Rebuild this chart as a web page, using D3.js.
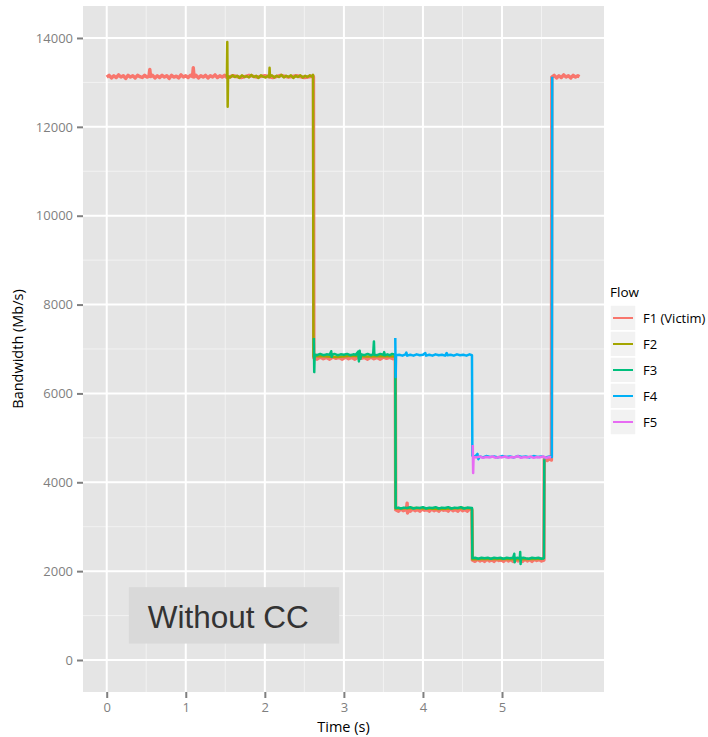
<!DOCTYPE html>
<html>
<head>
<meta charset="utf-8">
<script src="https://cdn.jsdelivr.net/npm/d3@7"></script>
<style>
  body { margin: 0; background: #fff; }
  svg text { font-family: "Open Sans", "DejaVu Sans", sans-serif; }
</style>
</head>
<body>
<div id="chart"></div>
<script>
const width = 708;
const height = 737;

// flows: names + colours (ggplot hue palette)
const flowNames = ["F1 (Victim)", "F2", "F3", "F4", "F5"];
const flowColors = ["#F8766D", "#A3A500", "#00BF7D", "#00B0F6", "#E76BF3"];

const xTicks = [0, 1, 2, 3, 4, 5];
const yTicks = [0, 2000, 4000, 6000, 8000, 10000, 12000, 14000];

// [time (s), bandwidth (Mb/s)]
const f1 = [
  [0.00,13120],[0.03,13160],[0.06,13100],[0.09,13150],[0.12,13110],[0.15,13170],[0.18,13120],[0.21,13150],
  [0.24,13090],[0.27,13160],[0.30,13120],[0.33,13150],[0.36,13100],[0.39,13160],[0.42,13130],[0.45,13110],
  [0.48,13160],[0.51,13120],[0.535,13140],[0.545,13290],[0.555,13130],[0.58,13160],[0.61,13100],[0.64,13150],
  [0.67,13110],[0.70,13160],[0.73,13120],[0.76,13150],[0.79,13090],[0.82,13160],[0.85,13120],[0.88,13140],
  [0.91,13100],[0.94,13170],[0.97,13120],[1.00,13150],[1.03,13110],[1.06,13160],[1.085,13130],[1.095,13330],
  [1.105,13120],[1.13,13160],[1.16,13100],[1.19,13150],[1.22,13120],[1.25,13160],[1.28,13100],[1.31,13150],
  [1.34,13120],[1.37,13170],[1.40,13110],[1.43,13150],[1.46,13120],[1.49,13160],[1.52,13110],
  [1.60,13150],[1.70,13110],[1.80,13160],[1.90,13120],[2.00,13150],[2.10,13110],[2.20,13160],[2.30,13120],
  [2.40,13150],[2.50,13110],[2.60,13140],[2.615,13130],
  [2.62,6800],[2.66,6770],[2.70,6820],[2.74,6780],[2.78,6810],[2.82,6770],[2.86,6820],[2.90,6790],[2.94,6810],
  [2.98,6770],[3.02,6820],[3.06,6780],[3.10,6810],[3.14,6770],[3.18,6820],[3.22,6790],[3.26,6810],[3.30,6770],
  [3.34,6820],[3.38,6780],[3.42,6810],[3.46,6770],[3.50,6820],[3.54,6790],[3.58,6810],[3.62,6780],[3.65,6800],
  [3.655,3380],[3.69,3350],[3.72,3400],[3.75,3360],[3.79,3390],[3.80,3530],[3.805,3310],[3.81,3380],[3.84,3350],
  [3.87,3400],[3.90,3360],[3.93,3390],[3.96,3350],[3.99,3400],[4.02,3370],[4.05,3390],[4.08,3350],[4.11,3400],
  [4.14,3360],[4.17,3390],[4.20,3350],[4.23,3400],[4.26,3370],[4.29,3390],[4.32,3350],[4.35,3410],[4.38,3360],
  [4.41,3390],[4.44,3350],[4.47,3400],[4.50,3360],[4.53,3390],[4.56,3350],[4.59,3400],[4.62,3370],
  [4.625,2250],[4.66,2220],[4.69,2270],[4.72,2230],[4.75,2260],[4.78,2220],[4.81,2270],[4.84,2230],[4.87,2260],
  [4.90,2220],[4.93,2270],[4.96,2240],[4.99,2260],[5.02,2220],[5.05,2270],[5.08,2230],[5.11,2260],[5.14,2220],
  [5.17,2270],[5.20,2230],[5.23,2260],[5.26,2220],[5.29,2270],[5.32,2230],[5.35,2260],[5.38,2220],[5.41,2270],
  [5.44,2240],[5.47,2260],[5.50,2230],[5.53,2250],
  [5.535,4520],[5.57,4490],[5.60,4530],[5.625,4500],
  [5.63,13120],[5.66,13160],[5.69,13100],[5.72,13150],[5.75,13110],[5.78,13170],[5.81,13120],[5.84,13150],
  [5.87,13100],[5.90,13160],[5.93,13120],[5.96,13150],[5.98,13130]
];

const f2 = [
  [1.52,13130],[1.525,13910],[1.53,12450],[1.535,13140],[1.56,13110],[1.59,13160],[1.62,13120],[1.65,13150],
  [1.68,13100],[1.71,13160],[1.74,13120],[1.77,13140],[1.80,13110],[1.83,13170],[1.86,13120],[1.89,13150],
  [1.92,13100],[1.95,13160],[1.98,13130],[2.01,13110],[2.04,13150],[2.055,13120],[2.06,13330],[2.065,13130],
  [2.09,13160],[2.12,13110],[2.15,13150],[2.18,13120],[2.21,13170],[2.24,13110],[2.27,13150],[2.30,13120],
  [2.33,13160],[2.36,13100],[2.39,13150],[2.42,13120],[2.45,13160],[2.48,13110],[2.51,13150],[2.54,13120],
  [2.57,13160],[2.60,13130],[2.61,13170],
  [2.615,6830],[2.70,6840],[2.90,6820],[3.10,6850],[3.30,6830],[3.50,6840],[3.65,6830],
  [3.655,3410],[3.90,3420],[4.20,3400],[4.50,3420],[4.62,3410],
  [4.625,2270],[4.90,2280],[5.20,2270],[5.53,2280]
];

const f3 = [
  [2.62,7250],[2.625,6480],[2.63,6880],[2.66,6860],[2.70,6890],[2.74,6860],[2.78,6880],[2.82,6870],[2.84,6950],
  [2.845,6820],[2.85,6870],[2.88,6890],[2.92,6860],[2.96,6880],[3.00,6870],[3.04,6890],[3.08,6860],[3.12,6880],
  [3.15,6870],[3.18,6940],[3.19,6720],[3.20,6960],[3.21,6780],[3.22,6880],[3.26,6860],[3.30,6890],[3.34,6860],
  [3.37,6880],[3.38,7170],[3.385,6870],[3.42,6860],[3.46,6890],[3.50,6870],[3.51,6930],[3.515,6860],[3.55,6880],
  [3.58,6860],[3.61,6890],[3.65,6870],
  [3.655,3420],[3.69,3430],[3.72,3410],[3.76,3430],[3.80,3420],[3.84,3440],[3.88,3410],[3.92,3430],[3.96,3420],
  [4.00,3440],[4.04,3410],[4.08,3430],[4.12,3420],[4.16,3440],[4.20,3410],[4.24,3430],[4.28,3420],[4.32,3440],
  [4.36,3410],[4.40,3430],[4.44,3420],[4.48,3440],[4.52,3410],[4.56,3430],[4.62,3420],
  [4.625,2290],[4.66,2300],[4.70,2280],[4.74,2300],[4.78,2290],[4.82,2300],[4.86,2280],[4.90,2300],[4.94,2290],
  [4.98,2300],[5.02,2280],[5.06,2300],[5.10,2290],[5.14,2300],[5.155,2390],[5.16,2200],[5.165,2290],[5.20,2300],
  [5.225,2280],[5.23,2430],[5.235,2160],[5.24,2290],[5.27,2300],[5.30,2290],[5.34,2280],[5.38,2300],[5.42,2290],
  [5.46,2300],[5.50,2280],[5.53,2290],
  [5.535,4520]
];

const f4 = [
  [3.65,7250],[3.655,6370],[3.66,6860],[3.70,6870],[3.74,6850],[3.78,6880],[3.79,6920],[3.80,6850],[3.84,6870],
  [3.88,6850],[3.92,6880],[3.96,6860],[4.00,6870],[4.03,6910],[4.04,6850],[4.08,6870],[4.12,6850],[4.16,6880],
  [4.20,6860],[4.24,6870],[4.28,6850],[4.30,6910],[4.31,6860],[4.35,6870],[4.39,6850],[4.43,6880],[4.47,6860],
  [4.51,6870],[4.55,6850],[4.59,6880],[4.62,6860],
  [4.625,4600],[4.66,4580],[4.69,4640],[4.70,4520],[4.72,4580],[4.76,4560],[4.80,4590],[4.85,4570],[4.90,4580],
  [4.95,4560],[5.00,4590],[5.05,4570],[5.10,4580],[5.15,4560],[5.20,4590],[5.25,4570],[5.30,4580],[5.35,4560],
  [5.40,4590],[5.45,4570],[5.50,4580],[5.55,4560],[5.60,4580],[5.63,4570],[5.635,13130]
];

const f5 = [
  [4.63,4840],[4.635,4210],[4.64,4570],[4.68,4560],[4.72,4580],[4.76,4550],[4.80,4570],[4.84,4560],[4.88,4580],
  [4.92,4550],[4.96,4570],[5.00,4560],[5.04,4580],[5.08,4550],[5.12,4570],[5.16,4560],[5.20,4590],[5.24,4550],
  [5.28,4570],[5.32,4560],[5.36,4580],[5.40,4550],[5.44,4570],[5.48,4560],[5.52,4580],[5.56,4550],[5.60,4570],
  [5.62,4560]
];

const flows = [f1, f2, f3, f4, f5];

// panel box
const panel = { left: 83, right: 604, top: 6, bottom: 692 };

const svg = d3.select("#chart")
    .append("svg")
    .attr("width", width)
    .attr("height", height);

const x = d3.scaleLinear().domain([-0.30, 6.29]).range([panel.left, panel.right]);
const y = d3.scaleLinear().domain([-720, 14720]).range([panel.bottom, panel.top]);

// panel background
svg.append("rect")
    .attr("x", panel.left).attr("y", panel.top)
    .attr("width", panel.right - panel.left)
    .attr("height", panel.bottom - panel.top)
    .attr("fill", "#E5E5E5");

// minor grid
const xMinor = xTicks.map(d => d + 0.5);
const yMinor = yTicks.map(d => d + 1000);
const grid = svg.append("g");
grid.selectAll(".xminor").data(xMinor).enter().append("line")
    .attr("x1", d => x(d)).attr("x2", d => x(d))
    .attr("y1", panel.top).attr("y2", panel.bottom)
    .attr("stroke", "#F2F2F2").attr("stroke-width", 1);
grid.selectAll(".yminor").data(yMinor).enter().append("line")
    .attr("y1", d => y(d)).attr("y2", d => y(d))
    .attr("x1", panel.left).attr("x2", panel.right)
    .attr("stroke", "#F2F2F2").attr("stroke-width", 1);

// major grid
grid.selectAll(".xmajor").data(xTicks).enter().append("line")
    .attr("x1", d => x(d)).attr("x2", d => x(d))
    .attr("y1", panel.top).attr("y2", panel.bottom)
    .attr("stroke", "#fff").attr("stroke-width", 2);
grid.selectAll(".ymajor").data(yTicks).enter().append("line")
    .attr("y1", d => y(d)).attr("y2", d => y(d))
    .attr("x1", panel.left).attr("x2", panel.right)
    .attr("stroke", "#fff").attr("stroke-width", 2);

// lines (the victim trace is noisier, so it reads thicker)
const line = d3.line().x(d => x(d[0])).y(d => y(d[1]));
svg.append("g").selectAll("path")
    .data(flows)
    .enter()
    .append("path")
    .attr("d", line)
    .attr("fill", "none")
    .attr("stroke", (d, i) => flowColors[i])
    .attr("stroke-width", (d, i) => i === 0 ? 3.4 : 2.5)
    .attr("stroke-linejoin", "round");

// axes
const xAxis = svg.append("g")
    .attr("transform", `translate(0,${panel.bottom})`)
    .call(d3.axisBottom(x).tickValues(xTicks).tickSize(6).tickPadding(5).tickFormat(d3.format("d")));
const yAxis = svg.append("g")
    .attr("transform", `translate(${panel.left},0)`)
    .call(d3.axisLeft(y).tickValues(yTicks).tickSize(6).tickPadding(4).tickFormat(d3.format("d")));

[xAxis, yAxis].forEach(ax => {
    ax.select(".domain").remove();
    ax.selectAll(".tick line").attr("stroke", "#7F7F7F").attr("stroke-width", 2);
    ax.selectAll(".tick text")
        .attr("fill", "#7F7F7F")
        .style("font-size", "13px");
});

// axis titles
svg.append("text")
    .attr("x", (panel.left + panel.right) / 2)
    .attr("y", 732)
    .attr("text-anchor", "middle")
    .style("font-size", "14.5px")
    .attr("fill", "#000")
    .text("Time (s)");

svg.append("text")
    .attr("transform", `translate(23,${(panel.top + panel.bottom) / 2}) rotate(-90)`)
    .attr("text-anchor", "middle")
    .style("font-size", "14.5px")
    .attr("fill", "#000")
    .text("Bandwidth (Mb/s)");

// annotation
svg.append("rect")
    .attr("x", x(0.28)).attr("y", y(1640))
    .attr("width", x(2.94) - x(0.28))
    .attr("height", y(370) - y(1640))
    .attr("fill", "#D9D9D9");
svg.append("text")
    .attr("x", x(0.52)).attr("y", y(730))
    .attr("fill", "#333")
    .style("font-family", "'Liberation Sans', Arial, sans-serif")
    .style("font-size", "31.5px")
    .text("Without CC");

// legend
const legend = svg.append("g").attr("transform", "translate(610,282)");
legend.append("text")
    .attr("x", 0).attr("y", 15)
    .style("font-size", "13.5px")
    .attr("fill", "#000")
    .text("Flow");

const keys = legend.selectAll(".key")
    .data(flowNames)
    .enter()
    .append("g")
    .attr("transform", (d, i) => `translate(0,${23 + i * 26})`);
keys.append("rect")
    .attr("width", 26).attr("height", 26)
    .attr("fill", "#F2F2F2")
    .attr("stroke", "#fff").attr("stroke-width", 1.5);
keys.append("line")
    .attr("x1", 3).attr("x2", 23)
    .attr("y1", 13).attr("y2", 13)
    .attr("stroke", (d, i) => flowColors[i])
    .attr("stroke-width", 2);
keys.append("text")
    .attr("x", 33).attr("y", 18)
    .style("font-size", "13px")
    .attr("fill", "#000")
    .text(d => d);
</script>
</body>
</html>
